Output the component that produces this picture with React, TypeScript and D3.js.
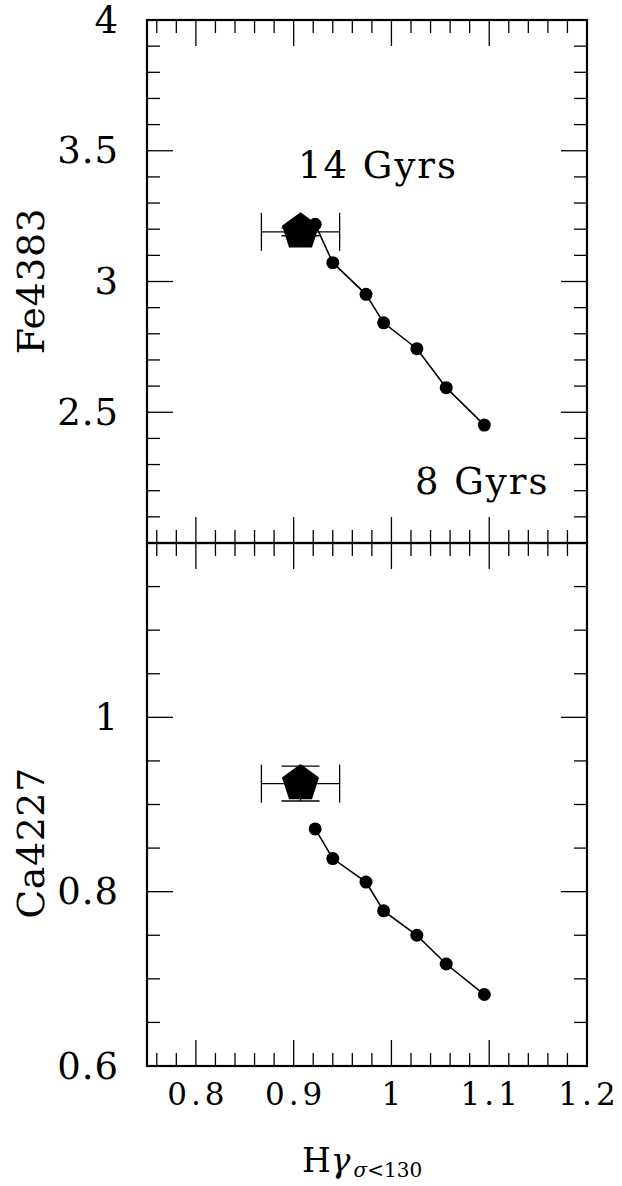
import * as d3 from "d3";
import { useEffect, useRef } from "react";

// model track, 14 Gyrs (left) down to 8 Gyrs (right)
const hgamma = [0.922, 0.94, 0.974, 0.992, 1.026, 1.056, 1.095];
const fe4383 = [3.219, 3.072, 2.951, 2.842, 2.743, 2.594, 2.451];
const ca4227 = [0.872, 0.838, 0.811, 0.778, 0.75, 0.717, 0.682];

// observed point with errors
const obsH = [0.907, 0.04];
const obsFe = [3.19, 0.015];
const obsCa = [0.924, 0.02];

const xTickLabels = [0.8, 0.9, 1, 1.1, 1.2];
const feTickLabels = [4, 3.5, 3, 2.5];
const caTickLabels = [1, 0.8, 0.6];

const W = 622, H = 1186;
const left = 147, right = 587;
const top1 = 20, mid = 543, bot = 1066;
const FONT = "'DejaVu Serif', serif";

const App = () => {
  const ref = useRef(null);

  useEffect(() => {
    const svg = d3.select(ref.current);
    svg.selectAll("*").remove();

    const x = d3.scaleLinear().domain([0.75, 1.2]).range([left, right]);
    const yFe = d3.scaleLinear().domain([2, 4]).range([mid, top1]);
    const yCa = d3.scaleLinear().domain([0.6, 1.2]).range([bot, mid]);

    const xMinor = d3.range(38, 61).map((i) => i / 50);
    const xMajor = d3.range(8, 13).map((i) => i / 10);

    const panel = (y, yMinor, yMajor, yLabels, ts, obsY, yName, nameY) => {
      const g = svg.append("g");
      const [y0, y1] = y.range();
      // frame
      g.append("rect")
        .attr("x", left).attr("y", y1)
        .attr("width", right - left).attr("height", y0 - y1)
        .attr("fill", "none").attr("stroke", "black").attr("stroke-width", 2.2);

      const tick = (x1, y1_, x2, y2) =>
        g.append("line").attr("x1", x1).attr("y1", y1_).attr("x2", x2).attr("y2", y2)
          .attr("stroke", "black").attr("stroke-width", 1.3);

      xMinor.forEach((v) => {
        const len = xMajor.some((m) => Math.abs(m - v) < 1e-6) ? 26 : 13;
        tick(x(v), y0, x(v), y0 - len);
        tick(x(v), y1, x(v), y1 + len);
      });
      yMinor.forEach((v) => {
        const len = yMajor.some((m) => Math.abs(m - v) < 1e-6) ? 26 : 13;
        tick(left, y(v), left + len, y(v));
        tick(right, y(v), right - len, y(v));
      });

      g.selectAll(".ylab").data(yLabels).join("text")
        .attr("x", 119).attr("y", (d) => y(d))
        .attr("text-anchor", "end").attr("dominant-baseline", "central")
        .attr("font-family", FONT).attr("font-size", 37).attr("letter-spacing", 1)
        .text((d) => String(d));

      g.append("text")
        .attr("transform", `translate(31,${nameY}) rotate(-90)`)
        .attr("text-anchor", "middle").attr("dominant-baseline", "central")
        .attr("font-family", FONT).attr("font-size", 38).attr("letter-spacing", 0.5)
        .text(yName);

      // model track
      const line = d3.line().x((d) => x(d[0])).y((d) => y(d[1]));
      const pts = hgamma.map((h, i) => [h, ts[i]]);
      g.append("path").attr("d", line(pts)).attr("fill", "none")
        .attr("stroke", "black").attr("stroke-width", 1.6);
      g.selectAll(".dot").data(pts).join("circle")
        .attr("cx", (d) => x(d[0])).attr("cy", (d) => y(d[1])).attr("r", 6.5)
        .attr("fill", "black");

      // observed point with error bars
      const cx = x(obsH[0]), cy = y(obsY[0]);
      const xa = x(obsH[0] - obsH[1]), xb = x(obsH[0] + obsH[1]);
      const ya = y(obsY[0] - obsY[1]), yb = y(obsY[0] + obsY[1]);
      const cap = 19;
      tick(xa, cy, xb, cy);
      tick(xa, cy - cap, xa, cy + cap);
      tick(xb, cy - cap, xb, cy + cap);
      tick(cx, ya, cx, yb);
      tick(cx - cap, ya, cx + cap, ya);
      tick(cx - cap, yb, cx + cap, yb);

      const R = 19.5;
      const pent = d3.range(5).map((k) => {
        const a = -Math.PI / 2 + (k * 2 * Math.PI) / 5;
        return [cx + R * Math.cos(a), cy + R * Math.sin(a)];
      });
      g.append("path")
        .attr("d", d3.line().curve(d3.curveLinearClosed)(pent))
        .attr("fill", "black");
    };

    panel(yFe, d3.range(20, 41).map((i) => i / 10), d3.range(4, 9).map((i) => i / 2),
      feTickLabels, fe4383, obsFe, "Fe4383", 281);
    panel(yCa, d3.range(12, 25).map((i) => i / 20), d3.range(3, 7).map((i) => i / 5),
      caTickLabels, ca4227, obsCa, "Ca4227", 843);

    svg.selectAll(".xlab").data(xTickLabels).join("text")
      .attr("x", (d) => x(d) + 2).attr("y", 1094)
      .attr("text-anchor", "middle").attr("dominant-baseline", "central")
      .attr("font-family", FONT).attr("font-size", 31).attr("letter-spacing", 4)
      .text((d) => String(d));

    const xl = svg.append("text").attr("x", 302).attr("y", 1172)
      .attr("font-family", FONT).attr("font-size", 33);
    xl.append("tspan").text("H");
    xl.append("tspan").attr("font-style", "italic").text("γ");
    xl.append("tspan").attr("font-size", 20).attr("dy", 5).attr("dx", 3)
      .attr("font-style", "italic").text("σ");
    xl.append("tspan").attr("font-size", 20).text("<130");

    svg.append("text").attr("x", 378).attr("y", 165)
      .attr("text-anchor", "middle").attr("dominant-baseline", "central")
      .attr("font-family", FONT).attr("font-size", 37).attr("letter-spacing", 2)
      .text("14 Gyrs");
    svg.append("text").attr("x", 415).attr("y", 481)
      .attr("dominant-baseline", "central")
      .attr("font-family", FONT).attr("font-size", 37).attr("letter-spacing", 2)
      .text("8 Gyrs");
  }, []);

  return (
    <svg ref={ref} width={W} height={H}
      style={{ position: "absolute", left: 0, top: 0, background: "white" }} />
  );
};

export default App;
